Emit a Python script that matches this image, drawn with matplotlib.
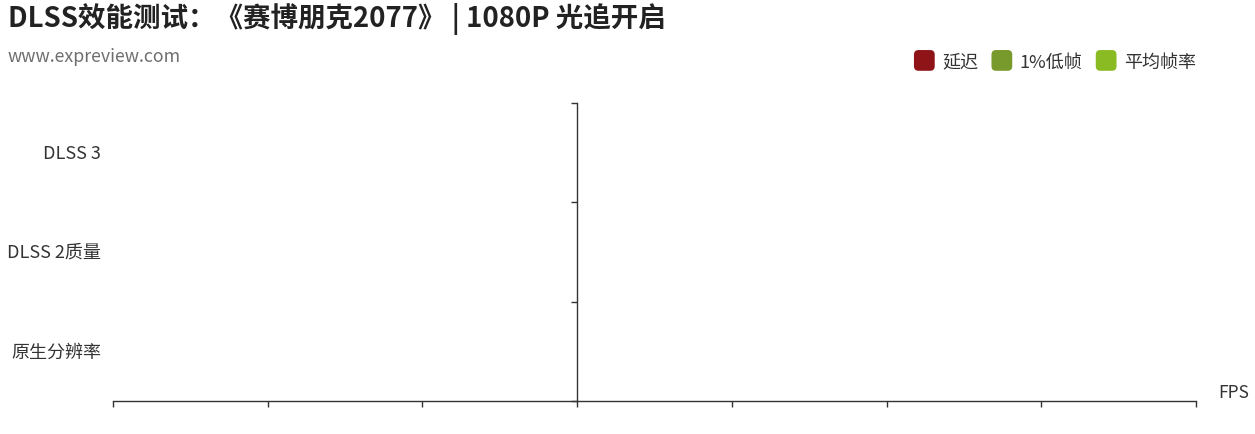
import numpy as np
import matplotlib
matplotlib.use("Agg")
import matplotlib.pyplot as plt
import matplotlib.transforms as mtransforms
from matplotlib.patches import Patch, FancyBboxPatch
from matplotlib.legend_handler import HandlerPatch

plt.rcParams['font.family'] = ['Noto Sans CJK SC', 'DejaVu Sans']

# ---- data ----
title = "DLSS效能测试：《赛博朋克2077》 | 1080P 光追开启"
subtitle = "www.expreview.com"
categories = ["原生分辨率", "DLSS 2质量", "DLSS 3"]
series_names = ["延迟", "1%低帧", "平均帧率"]
series_colors = ["#8f1418", "#789a2c", "#8bbb22"]
# no bars are rendered in the reference chart
latency = [np.nan, np.nan, np.nan]
low1 = [np.nan, np.nan, np.nan]
avg_fps = [np.nan, np.nan, np.nan]
x_ticks = [-3, -2, -1, 0, 1, 2, 3, 4]
x_label = "FPS"

W, H = 1255, 435
fig = plt.figure(figsize=(W / 100, H / 100), dpi=100)
L, R, T, B = 113, 1196, 104, 402
ax = fig.add_axes([L / W, 1 - B / H, (R - L) / W, (B - T) / H])

axis_color = "#333333"
y = np.arange(len(categories))
bh = 0.22
for k, (vals, name, col) in enumerate(zip([latency, low1, avg_fps], series_names, series_colors)):
    ax.barh(y + (k - 1) * bh, vals, height=bh, color=col, label=name)

ax.set_xlim(x_ticks[0], x_ticks[-1])
ax.set_ylim(-0.5, len(categories) - 0.5)

for s in ["top", "right"]:
    ax.spines[s].set_visible(False)
ax.spines["left"].set_position(("data", 0))
ax.spines["left"].set_color(axis_color)
ax.spines["bottom"].set_color(axis_color)
ax.spines["left"].set_linewidth(1.0)
ax.spines["bottom"].set_linewidth(1.0)

ax.set_xticks(x_ticks)
ax.set_xticklabels([])
ax.tick_params(axis="x", direction="out", length=4, width=1, color=axis_color)
ax.set_yticks(np.arange(-0.5, len(categories), 1.0))
ax.set_yticklabels([])
ax.tick_params(axis="y", direction="out", length=4, width=1, color=axis_color)

trans = mtransforms.blended_transform_factory(ax.transAxes, ax.transData)
for i, c in enumerate(categories):
    ax.text(-12 / (R - L), i, c, transform=trans, ha="right", va="center",
            fontsize=13, color="#333333")

ax.text((1218 - L) / (R - L), -0.5, x_label, transform=trans, ha="left", va="bottom",
        fontsize=12.5, color="#333333")

fig.text(8 / W, 1 - 19 / H, title, ha="left", va="center", fontsize=19.8,
         fontweight="bold", color="#222222")
fig.text(8 / W, 1 - 57 / H, subtitle, ha="left", va="center", fontsize=12.8,
         color="#6e6e6e")


def rounded(legend, orig_handle, xdescent, ydescent, width, height, fontsize):
    s = max(width, height)
    return FancyBboxPatch((-xdescent + (width - s) / 2, -ydescent + (height - s) / 2), s, s,
                          boxstyle=f"round,pad=0,rounding_size={s * 0.22}")


handles = [Patch(facecolor=c, edgecolor="none", label=n) for c, n in zip(series_colors, series_names)]
fig.legend(handles=handles, loc="center right", bbox_to_anchor=(1212 / W, 1 - 62 / H),
           ncol=3, frameon=False, fontsize=13, handlelength=1.15, handleheight=1.15,
           handletextpad=0.4, columnspacing=0.75, labelcolor="#333333",
           handler_map={Patch: HandlerPatch(patch_func=rounded)})

fig.savefig("out.png", dpi=100, facecolor="white")
